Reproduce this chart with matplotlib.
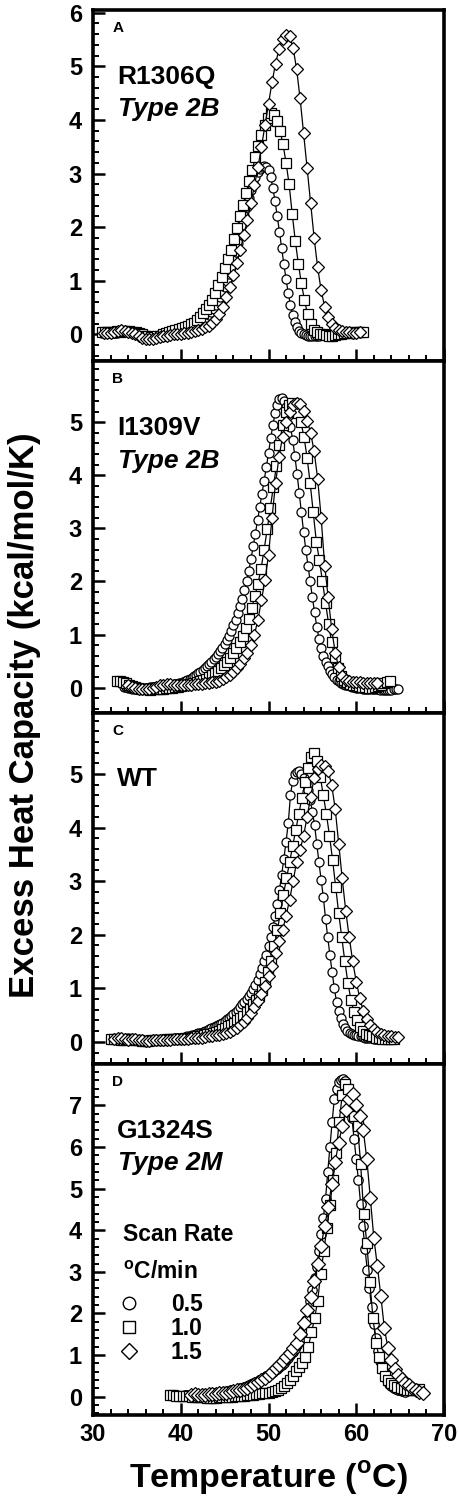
import matplotlib
matplotlib.use("Agg")
import matplotlib.pyplot as plt
import numpy as np
from matplotlib.lines import Line2D
from matplotlib.ticker import MultipleLocator

plt.rcParams["font.family"] = ["Liberation Sans", "DejaVu Sans"]
plt.rcParams["font.weight"] = "bold"
plt.rcParams["mathtext.fontset"] = "custom"
plt.rcParams["mathtext.rm"] = "Liberation Sans:bold"
plt.rcParams["mathtext.bf"] = "Liberation Sans:bold"

# scan rates (degC/min) and the temperature spacing of the recorded points
rates = ["0.5", "1.0", "1.5"]
steps = [0.25, 0.35, 0.4]

# ---- panel A : R1306Q, first temperature of each scan, then Cp (kcal/mol/K)
a_start = [31.0, 31.0, 31.2]
a_cp05 = [0.03, 0.02, 0.03, 0.02, 0.02, 0.03, 0.02, 0.03, 0.04, 0.05,
          0.06, 0.06, 0.05, 0.04, 0.03, 0.02, 0.01, 0.0, -0.02, -0.03,
          -0.04, -0.05, -0.05, -0.04, -0.03, -0.02, -0.01, 0.0, 0.01, 0.02,
          0.02, 0.03, 0.03, 0.04, 0.04, 0.05, 0.05, 0.06, 0.07, 0.08,
          0.09, 0.1, 0.12, 0.14, 0.17, 0.2, 0.23, 0.27, 0.31, 0.36,
          0.41, 0.47, 0.54, 0.62, 0.7, 0.79, 0.89, 1.0, 1.12, 1.25,
          1.39, 1.54, 1.7, 1.87, 2.04, 2.21, 2.38, 2.54, 2.69, 2.82,
          2.93, 3.02, 3.08, 3.12, 3.14, 3.13, 3.07, 2.93, 2.73, 2.48,
          2.2, 1.91, 1.61, 1.31, 1.03, 0.77, 0.55, 0.37, 0.23, 0.13,
          0.07, 0.03, 0.0, -0.01, -0.02, -0.02, -0.03, -0.03, -0.02, -0.02,
          -0.01, -0.01, 0.0, 0.0, 0.01]
a_cp10 = [0.05, 0.04, 0.05, 0.04, 0.05, 0.06, 0.05, 0.06, 0.07, 0.06,
          0.05, 0.04, 0.02, 0.0, -0.02, -0.03, -0.04, -0.04, -0.03, -0.02,
          0.0, 0.02, 0.04, 0.06, 0.08, 0.1, 0.12, 0.14, 0.16, 0.19,
          0.22, 0.27, 0.33, 0.4, 0.47, 0.55, 0.65, 0.77, 0.92, 1.08,
          1.24, 1.4, 1.58, 1.78, 1.98, 2.2, 2.42, 2.64, 2.86, 3.07,
          3.3, 3.52, 3.72, 3.9, 4.04, 4.12, 4.1, 3.98, 3.8, 3.55,
          3.2, 2.8, 2.25, 1.75, 1.32, 0.95, 0.64, 0.38, 0.2, 0.09,
          0.04, 0.01, 0.0, -0.01, -0.02, -0.02, -0.01, 0.0, 0.01, 0.02,
          0.02, 0.03, 0.04, 0.04, 0.05, 0.05]
a_cp15 = [0.02, 0.03, 0.02, 0.04, 0.06, 0.08, 0.07, 0.05, 0.03, 0.0,
          -0.03, -0.06, -0.08, -0.09, -0.08, -0.06, -0.04, -0.03, -0.02, -0.01,
          0.0, 0.0, 0.01, 0.02, 0.03, 0.04, 0.06, 0.08, 0.1, 0.13,
          0.16, 0.21, 0.29, 0.38, 0.52, 0.7, 0.88, 1.1, 1.34, 1.58,
          1.86, 2.14, 2.45, 2.78, 3.12, 3.5, 3.9, 4.3, 4.7, 5.05,
          5.32, 5.5, 5.58, 5.56, 5.35, 4.95, 4.4, 3.75, 3.1, 2.45,
          1.8, 1.25, 0.82, 0.52, 0.32, 0.19, 0.12, 0.08, 0.06, 0.05,
          0.04, 0.03, 0.03, 0.04]

# ---- panel B : I1309V
b_start = [33.5, 32.7, 34.0]
b_cp05 = [0.02, 0.01, 0.0, -0.01, -0.02, -0.03, -0.03, -0.02, -0.02, -0.01,
          0.0, 0.0, 0.01, 0.01, 0.02, 0.02, 0.02, 0.03, 0.03, 0.03,
          0.04, 0.04, 0.05, 0.06, 0.07, 0.08, 0.09, 0.1, 0.12, 0.14,
          0.16, 0.18, 0.21, 0.24, 0.27, 0.3, 0.33, 0.37, 0.41, 0.45,
          0.49, 0.53, 0.58, 0.63, 0.69, 0.75, 0.82, 0.9, 0.98, 1.07,
          1.17, 1.28, 1.4, 1.53, 1.67, 1.83, 2.0, 2.2, 2.42, 2.66,
          2.9, 3.15, 3.4, 3.65, 3.9, 4.15, 4.42, 4.7, 4.95, 5.17,
          5.33, 5.43, 5.45, 5.4, 5.28, 5.12, 4.92, 4.67, 4.37, 4.03,
          3.67, 3.3, 2.93, 2.6, 2.3, 2.0, 1.7, 1.42, 1.15, 0.92,
          0.74, 0.6, 0.49, 0.4, 0.32, 0.25, 0.2, 0.15, 0.12, 0.09,
          0.07, 0.05, 0.04, 0.03, 0.02, 0.01, 0.0, -0.01, -0.01, -0.02,
          -0.02, -0.02, -0.03, -0.03, -0.03, -0.03, -0.03, -0.04, -0.04, -0.04,
          -0.04, -0.04, -0.04, -0.03, -0.03, -0.03]
b_cp10 = [0.12, 0.12, 0.1, 0.08, 0.05, 0.03, 0.01, 0.0, -0.02, -0.03,
          -0.03, -0.04, -0.03, -0.03, -0.02, -0.02, -0.01, 0.0, 0.0, 0.01,
          0.02, 0.03, 0.04, 0.05, 0.06, 0.08, 0.1, 0.12, 0.14, 0.17,
          0.2, 0.23, 0.27, 0.32, 0.37, 0.43, 0.49, 0.56, 0.65, 0.75,
          0.86, 0.98, 1.12, 1.3, 1.5, 1.72, 1.96, 2.24, 2.6, 2.98,
          3.38, 3.78, 4.18, 4.58, 4.95, 5.2, 5.33, 5.36, 5.3, 5.18,
          5.0, 4.72, 4.33, 3.85, 3.3, 2.75, 2.4, 2.0, 1.6, 1.2,
          0.85, 0.57, 0.36, 0.22, 0.14, 0.1, 0.07, 0.05, 0.04, 0.03,
          0.02, 0.01, 0.0, 0.0, 0.01, 0.03, 0.05, 0.08, 0.1, 0.12]
b_cp15 = [0.04, 0.02, 0.0, -0.02, -0.03, -0.03, -0.02, 0.0, 0.02, 0.04,
          0.05, 0.06, 0.06, 0.05, 0.04, 0.04, 0.04, 0.05, 0.05, 0.06,
          0.06, 0.07, 0.08, 0.09, 0.1, 0.11, 0.13, 0.16, 0.19, 0.24,
          0.3, 0.37, 0.45, 0.55, 0.66, 0.8, 1.0, 1.28, 1.65, 2.02,
          2.5, 3.2, 3.85, 4.35, 4.72, 5.0, 5.2, 5.32, 5.37, 5.35,
          5.22, 5.03, 4.8, 4.45, 3.94, 3.2, 2.3, 1.7, 1.1, 0.66,
          0.38, 0.22, 0.15, 0.12, 0.11, 0.1, 0.1, 0.09, 0.09, 0.08,
          0.08, 0.08]

# ---- panel C : WT
c_start = [32.5, 32.1, 32.4]
c_cp05 = [0.05, 0.06, 0.05, 0.04, 0.05, 0.06, 0.07, 0.06, 0.05, 0.04,
          0.03, 0.03, 0.02, 0.02, 0.01, 0.01, 0.02, 0.02, 0.03, 0.03,
          0.04, 0.04, 0.05, 0.05, 0.05, 0.06, 0.06, 0.06, 0.07, 0.07,
          0.08, 0.08, 0.09, 0.1, 0.11, 0.12, 0.13, 0.14, 0.16, 0.17,
          0.18, 0.2, 0.21, 0.23, 0.25, 0.27, 0.29, 0.31, 0.33, 0.36,
          0.39, 0.42, 0.45, 0.48, 0.52, 0.56, 0.6, 0.65, 0.7, 0.75,
          0.8, 0.86, 0.92, 0.99, 1.07, 1.16, 1.26, 1.37, 1.5, 1.63,
          1.78, 1.95, 2.14, 2.35, 2.58, 2.84, 3.12, 3.42, 3.74, 4.08,
          4.6, 4.88, 5.0, 5.04, 5.05, 5.0, 4.93, 4.83, 4.7, 4.52,
          4.3, 4.05, 3.7, 3.35, 3.02, 2.7, 2.3, 1.95, 1.62, 1.3,
          1.0, 0.75, 0.58, 0.44, 0.33, 0.25, 0.2, 0.17, 0.15, 0.13,
          0.12, 0.11, 0.1, 0.09, 0.08, 0.08, 0.07, 0.07, 0.06, 0.06,
          0.06]
c_cp10 = [0.05, 0.06, 0.05, 0.04, 0.04, 0.05, 0.05, 0.04, 0.03, 0.03,
          0.02, 0.02, 0.02, 0.03, 0.03, 0.04, 0.04, 0.04, 0.05, 0.05,
          0.05, 0.05, 0.06, 0.06, 0.07, 0.07, 0.08, 0.09, 0.1, 0.11,
          0.12, 0.14, 0.15, 0.17, 0.19, 0.21, 0.23, 0.26, 0.29, 0.32,
          0.36, 0.4, 0.44, 0.49, 0.55, 0.62, 0.7, 0.78, 0.85, 0.97,
          1.12, 1.3, 1.5, 1.78, 2.08, 2.4, 2.75, 3.05, 3.35, 3.65,
          3.95, 4.25, 4.55, 4.85, 5.12, 5.32, 5.4, 5.25, 4.95, 4.6,
          4.25, 3.85, 3.4, 2.9, 2.4, 1.95, 1.5, 1.1, 0.78, 0.55,
          0.4, 0.28, 0.2, 0.15, 0.12, 0.1, 0.08, 0.07, 0.06, 0.05,
          0.05, 0.05, 0.05]
c_cp15 = [0.06, 0.08, 0.07, 0.05, 0.04, 0.05, 0.06, 0.04, 0.03, 0.02,
          0.02, 0.03, 0.03, 0.04, 0.04, 0.03, 0.04, 0.05, 0.05, 0.06,
          0.06, 0.06, 0.07, 0.07, 0.08, 0.08, 0.09, 0.1, 0.11, 0.12,
          0.13, 0.15, 0.17, 0.19, 0.22, 0.26, 0.31, 0.37, 0.45, 0.54,
          0.65, 0.77, 0.9, 1.05, 1.22, 1.42, 1.65, 1.88, 2.08, 2.35,
          2.65, 3.0, 3.35, 3.58, 3.85, 4.2, 4.58, 4.92, 5.1, 5.17,
          5.16, 5.05, 4.8, 4.35, 3.7, 3.05, 2.45, 1.95, 1.5, 1.12,
          0.82, 0.58, 0.42, 0.31, 0.23, 0.18, 0.14, 0.12, 0.11, 0.1,
          0.09, 0.09]

# ---- panel D : G1324S
d_start = [40.5, 38.8, 41.2]
d_cp05 = [0.04, 0.05, 0.04, 0.05, 0.06, 0.05, 0.04, 0.05, 0.06, 0.06,
          0.07, 0.07, 0.08, 0.08, 0.09, 0.1, 0.1, 0.11, 0.12, 0.13,
          0.14, 0.15, 0.16, 0.17, 0.19, 0.2, 0.22, 0.24, 0.26, 0.28,
          0.3, 0.32, 0.34, 0.37, 0.4, 0.43, 0.46, 0.49, 0.52, 0.56,
          0.59, 0.63, 0.67, 0.71, 0.76, 0.81, 0.87, 0.93, 1.0, 1.08,
          1.15, 1.24, 1.36, 1.5, 1.66, 1.84, 2.05, 2.3, 2.57, 2.85,
          3.12, 3.5, 3.9, 4.3, 4.75, 5.4, 6.0, 6.6, 7.15, 7.4,
          7.55, 7.62, 7.64, 7.58, 7.45, 7.15, 6.7, 6.2, 5.7, 5.2,
          4.62, 4.1, 3.55, 3.05, 2.6, 2.15, 1.75, 1.4, 1.1, 0.85,
          0.65, 0.5, 0.39, 0.31, 0.25, 0.21, 0.18, 0.16, 0.15, 0.13,
          0.12]
d_cp10 = [0.03, 0.03, 0.02, 0.02, 0.02, 0.01, 0.01, 0.0, 0.0, 0.0,
          -0.01, -0.01, -0.02, -0.02, -0.02, -0.02, -0.01, -0.01, 0.0, 0.0,
          0.0, 0.01, 0.01, 0.02, 0.02, 0.03, 0.04, 0.05, 0.06, 0.07,
          0.08, 0.09, 0.1, 0.12, 0.14, 0.17, 0.21, 0.26, 0.32, 0.4,
          0.5, 0.62, 0.72, 0.82, 0.95, 1.2, 1.55, 1.88, 2.3, 2.95,
          3.5, 4.05, 4.6, 5.2, 5.85, 6.6, 7.25, 7.52, 7.4, 7.15,
          6.75, 6.5, 5.6, 4.4, 3.7, 2.75, 1.9, 1.3, 0.95, 0.7,
          0.5, 0.4, 0.32, 0.27, 0.23, 0.2, 0.18, 0.17, 0.17, 0.16,
          0.17, 0.18]
d_cp15 = [0.05, 0.06, 0.05, 0.04, 0.05, 0.06, 0.06, 0.07, 0.08, 0.09,
          0.1, 0.11, 0.13, 0.15, 0.17, 0.19, 0.22, 0.26, 0.3, 0.35,
          0.4, 0.46, 0.52, 0.6, 0.68, 0.76, 0.85, 0.95, 1.06, 1.17,
          1.29, 1.5, 1.77, 2.08, 2.4, 2.78, 3.2, 3.62, 4.1, 4.55,
          5.1, 5.65, 6.1, 6.5, 6.88, 7.15, 7.28, 7.0, 6.75, 6.4,
          5.72, 4.78, 3.82, 3.15, 2.42, 1.65, 1.18, 0.88, 0.66, 0.52,
          0.42, 0.34, 0.28, 0.22, 0.17, 0.12, 0.09]

panels = [
    dict(letter="A", name="R1306Q", kind="Type 2B", start=a_start,
         cp=[a_cp05, a_cp10, a_cp15], ylim=(-0.5, 6.05), ytop=6, ms=[6.5, 7.0, 6.2]),
    dict(letter="B", name="I1309V", kind="Type 2B", start=b_start,
         cp=[b_cp05, b_cp10, b_cp15], ylim=(-0.47, 6.15), ytop=5, ms=[6.5, 7.0, 6.2]),
    dict(letter="C", name="WT", kind=None, start=c_start,
         cp=[c_cp05, c_cp10, c_cp15], ylim=(-0.41, 6.15), ytop=5, ms=[6.5, 7.0, 6.2]),
    dict(letter="D", name="G1324S", kind="Type 2M", start=d_start,
         cp=[d_cp05, d_cp10, d_cp15], ylim=(-0.44, 8.0), ytop=7, ms=[6.8, 7.2, 7.0]),
]
markers = ["o", "s", "D"]

W, H = 460, 1497
fig = plt.figure(figsize=(W / 100, H / 100), dpi=100)
left, width = 93 / W, 351 / W
ph = 351.25 / H
bottom0 = 1 - 1415 / H

axes = []
for i, p in enumerate(panels):
    ax = fig.add_axes([left, bottom0 + (3 - i) * ph, width, ph])
    axes.append(ax)
    for j, cp in enumerate(p["cp"]):
        t = p["start"][j] + steps[j] * np.arange(len(cp))
        ax.plot(t, cp, color="black", lw=0.9, marker=markers[j], ms=p["ms"][j],
                mfc="white", mec="black", mew=0.9, zorder=2 + j)

    ax.set_xlim(30, 70)
    ax.set_ylim(*p["ylim"])
    ax.xaxis.set_major_locator(MultipleLocator(10))
    ax.xaxis.set_minor_locator(MultipleLocator(2))
    ax.set_yticks(range(0, p["ytop"] + 1))
    ax.yaxis.set_minor_locator(MultipleLocator(0.2))
    ax.tick_params(which="major", direction="in", length=8.5, width=1.8,
                   labelsize=17, pad=8, top=False, right=False)
    ax.tick_params(which="minor", direction="in", length=4, width=1.4,
                   top=False, right=False)
    ax.tick_params(axis="x", pad=6)
    if i < 3:
        ax.tick_params(axis="x", labelbottom=False)
    for s in ax.spines.values():
        s.set_linewidth(2.6)

    ax.text(0.055, 0.937, p["letter"], transform=ax.transAxes, fontsize=11,
            fontweight="bold", ha="left", va="baseline")
    ax.text(0.068, 0.79, p["name"], transform=ax.transAxes, fontsize=19,
            fontweight="bold", ha="left", va="baseline")
    if p["kind"]:
        ax.text(0.07, 0.697, p["kind"], transform=ax.transAxes, fontsize=19,
                fontweight="bold", fontstyle="italic", ha="left", va="baseline")

# scan-rate key in the last panel
ax = axes[3]
ax.text(0.085, 0.496, "Scan Rate", transform=ax.transAxes, fontsize=16.5,
        fontweight="bold", ha="left", va="baseline")
ax.text(0.085, 0.387, r"$^{\mathbf{o}}$C/min", transform=ax.transAxes,
        fontsize=16.5, fontweight="bold", ha="left", va="baseline")
handles = [Line2D([], [], ls="none", marker=m, ms=s, mfc="white", mec="black", mew=1.0)
           for m, s in zip(markers, [9, 9, 8])]
ax.legend(handles, rates, loc="upper left", bbox_to_anchor=(0.071, 0.348),
          frameon=False, fontsize=16.5, handlelength=1.0, handletextpad=1.3,
          labelspacing=0.05, borderpad=0, borderaxespad=0)

fig.text(25 / W, 1 - 715 / H, "Excess Heat Capacity (kcal/mol/K)", rotation=90,
         fontsize=25, fontweight="bold", ha="center", va="center")
fig.text(268.5 / W, 1 - 1488 / H, r"Temperature ($^{\mathbf{o}}$C)",
         fontsize=24.5, fontweight="bold", ha="center", va="baseline")

fig.savefig("out.png", dpi=100)
